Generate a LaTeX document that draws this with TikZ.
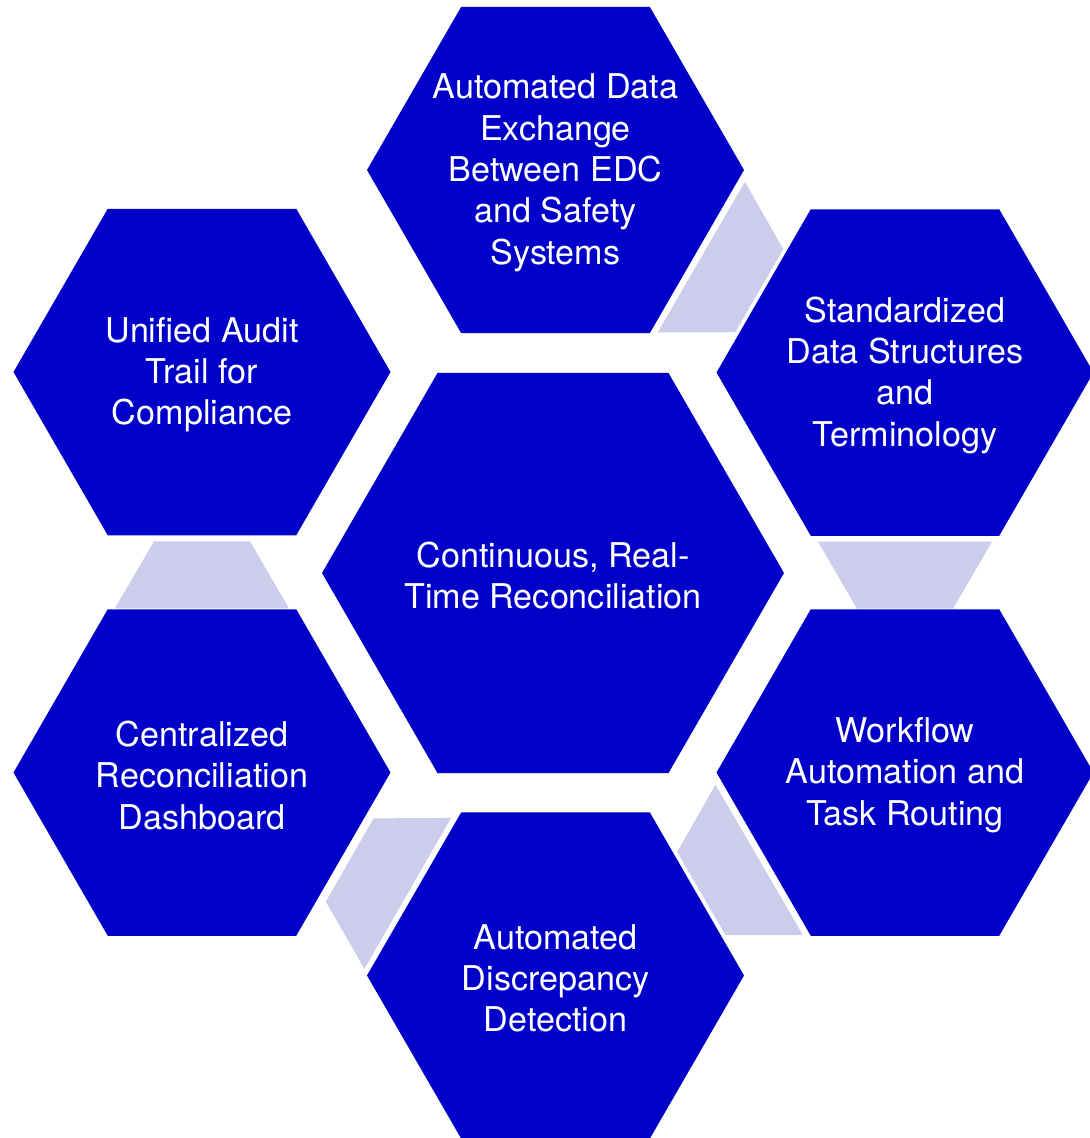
\documentclass[tikz,border=0pt]{standalone}
\usepackage{fontspec}
\setmainfont{TeX Gyre Heros}
\usetikzlibrary{calc}

\definecolor{hexblue}{RGB}{0,0,200}
\definecolor{linklav}{RGB}{203,205,234}

\tikzset{every picture/.style={line width=0.75pt}}
\tikzset{
  hexfill/.style={fill=hexblue,draw=none},
  linkfill/.style={fill=linklav,draw=none},
  hexlabel/.style={text=white,align=center,inner sep=0.75pt,yshift=-2pt,font=\fontsize{25.6}{31}\selectfont}
}

% hexagon with its label: name, x, y, radius, text
\newcommand{\hexcell}[5]{%
  \fill[hexfill] (#2,#3) +(0:#4) -- +(60:#4) -- +(120:#4) -- +(180:#4) -- +(240:#4) -- +(300:#4) -- cycle;
  \node[hexlabel] (#1) at (#2,#3) {#5};
}
% trapezoid between two hexagons, long side on the first one
\newcommand{\hexlink}[2]{%
  \coordinate (mid) at ($(#1)!0.5!(#2)$);
  \coordinate (near) at ($(mid)!25.1pt!(#1)$);
  \coordinate (far) at ($(mid)!25.1pt!(#2)$);
  \fill[linkfill] ($(near)!65.25pt!90:(mid)$) -- ($(near)!65.25pt!-90:(mid)$) -- ($(far)!36pt!90:(mid)$) -- ($(far)!36pt!-90:(mid)$) -- cycle;
}

\begin{document}
\begin{tikzpicture}[x=0.75pt,y=0.75pt,yscale=-1,xscale=1]
	\useasboundingbox (0,0) rectangle (1089,1138);
	
	%Shape: Hexagon (centre)
	\hexcell{hub}{553}{573}{231}{Continuous, Real-\\Time Reconciliation}
	%Shape: Hexagon (top)
	\hexcell{exchange}{555.5}{170}{188.5}{Automated Data\\Exchange\\Between EDC\\and Safety\\Systems}
	%Shape: Hexagon (upper right)
	\hexcell{standards}{905}{372.5}{188.5}{Standardized\\Data Structures\\and\\Terminology}
	%Shape: Hexagon (lower right)
	\hexcell{workflow}{905}{772.5}{188.5}{Workflow\\Automation and\\Task Routing}
	%Shape: Hexagon (bottom)
	\hexcell{detection}{555.5}{975.5}{188.5}{Automated\\Discrepancy\\Detection}
	%Shape: Hexagon (lower left)
	\hexcell{dashboard}{202}{772.5}{188.5}{Centralized\\Reconciliation\\Dashboard}
	%Shape: Hexagon (upper left)
	\hexcell{audit}{202}{372}{188.5}{Unified Audit\\Trail for\\Compliance}
	
	%Shape: Trapezoid links
	\hexlink{exchange}{standards}
	\hexlink{standards}{workflow}
	\hexlink{workflow}{detection}
	\hexlink{detection}{dashboard}
	\hexlink{dashboard}{audit}
	
\end{tikzpicture}
\end{document}
